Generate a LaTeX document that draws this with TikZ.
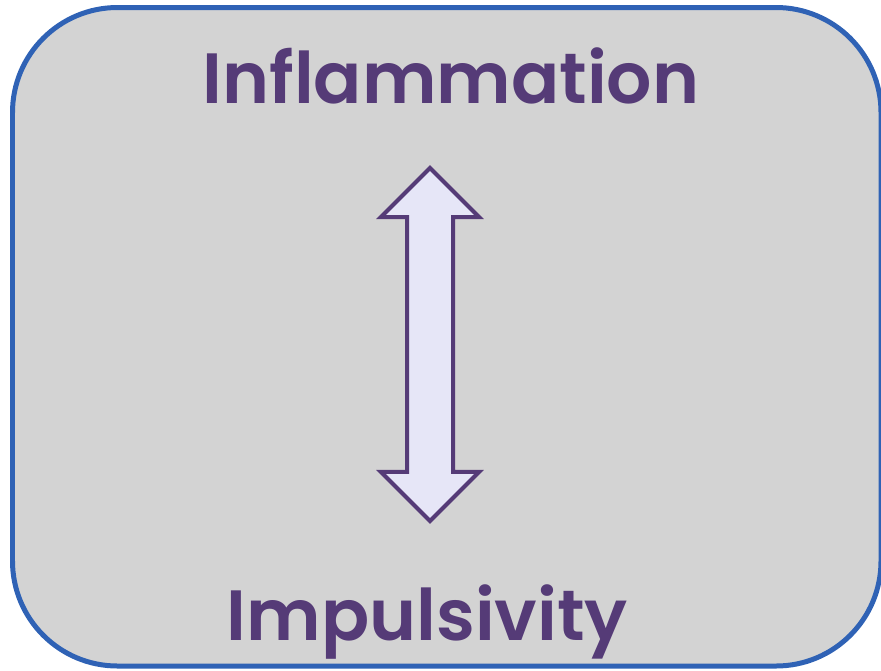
\documentclass[tikz,border=0pt]{standalone}
\usepackage{fontspec}
\usepackage{tikz}
\usetikzlibrary{shapes.arrows}
\newfontfamily\labelfont{Poppins}[UprightFont=* SemiBold]
\definecolor{boxgrey}{HTML}{D3D3D3}
\definecolor{boxblue}{HTML}{2F62B5}
\definecolor{labelpurple}{HTML}{553B77}
\definecolor{arrowfill}{HTML}{E6E6F7}

\begin{document}
\begin{tikzpicture}[x=0.02cm, y=-0.02cm,
		box_style/.style={draw=boxblue,fill=boxgrey,line width=0.1cm,rounded corners=2.1cm},
		label_style/.style={anchor=base,text=labelpurple,font=\labelfont\fontsize{40.5}{41}\selectfont,inner sep=0pt},
		arrow_style/.style={double arrow,draw=labelpurple,fill=arrowfill,line width=0.08cm,inner xsep=0pt,inner ysep=0.42cm,
			rotate=90,minimum height=7.06cm,minimum width=1.9cm,double arrow head extend=0.52cm,double arrow tip angle=90}]
		
		\useasboundingbox (0,0) rectangle (881,670);
		\draw[box_style] (12.5,7.5) rectangle (881,666);
		
		\node[label_style] (n_top) at (451,103)  {Inflammation};
		\node[label_style] (n_bottom) at (427.5,640)  {Impulsivity};
		\node[arrow_style] (n_link) at (430,344.5)  {};
		
		\end{tikzpicture}
\end{document}
